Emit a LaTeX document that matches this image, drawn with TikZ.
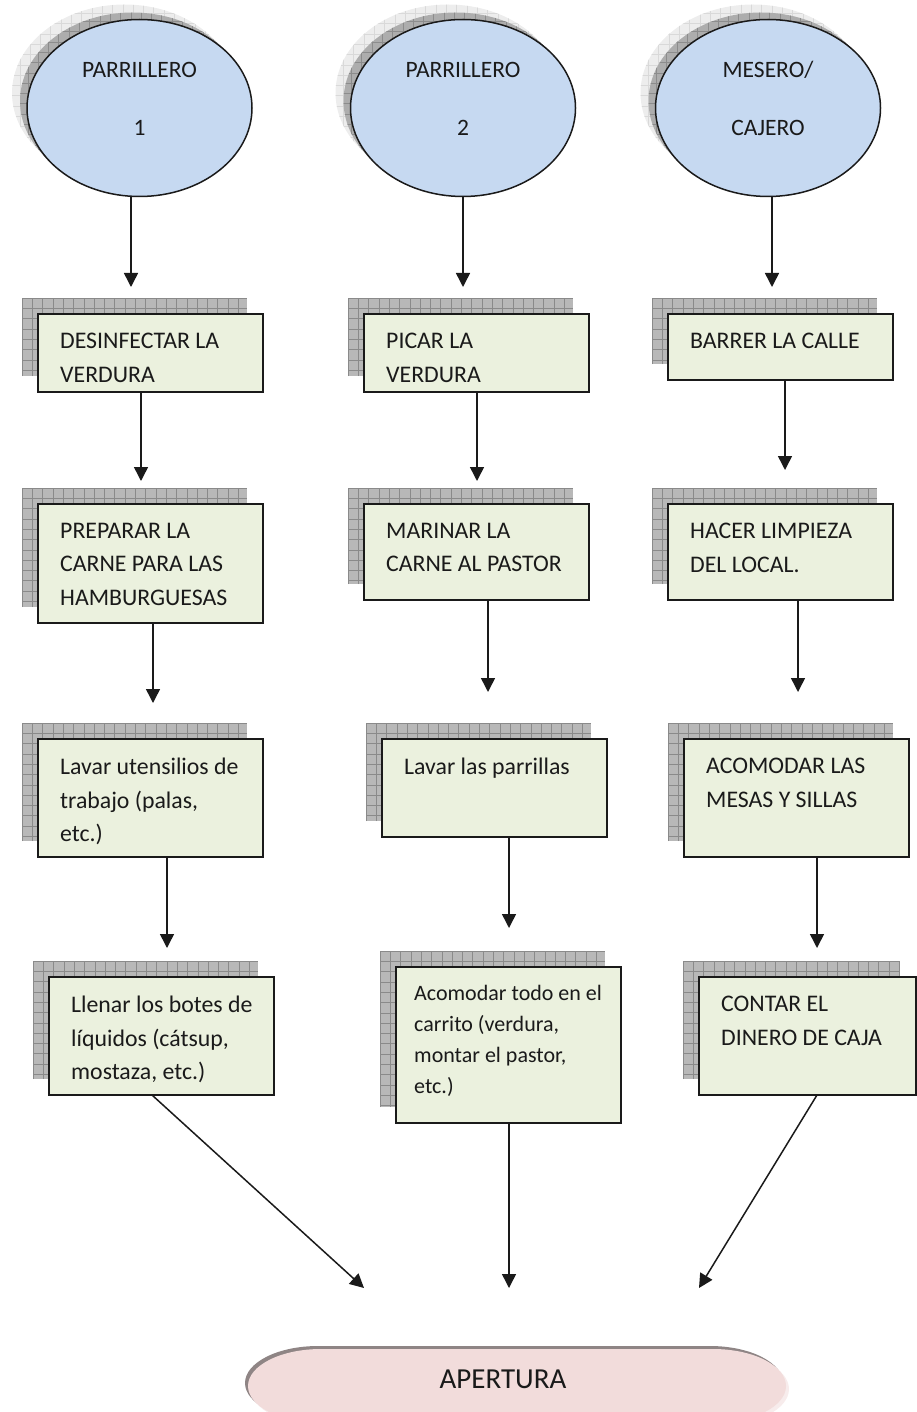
\documentclass[tikz,border=0pt]{standalone}
\usepackage{fontspec}
\setmainfont{Carlito}
\usetikzlibrary{arrows.meta,shapes.geometric}

\definecolor{ellfill}{HTML}{C6D9F1}
\definecolor{boxfill}{HTML}{EBF1DE}
\definecolor{endfill}{HTML}{F2DCDB}
\definecolor{endshade}{HTML}{8F8585}
\definecolor{endrim}{HTML}{F7ECEC}
\definecolor{ink}{HTML}{1A1A1A}

\tikzset{
  stepbox/.style={draw=ink, line width=1.8pt, fill=boxfill, inner sep=0pt,
    outer sep=0pt, anchor=north west},
  role/.style={ellipse, draw=ink, line width=1.5pt, fill=ellfill, inner sep=0pt,
    outer sep=0pt, minimum width=225, minimum height=177},
  boxtext/.style={font=\fontsize{23.8}{33.5}\selectfont, text=ink, align=left,
    inner sep=0pt, anchor=north west},
  smalltext/.style={font=\fontsize{22}{31}\selectfont},
  roletext/.style={font=\fontsize{23.5}{28}\selectfont, text=ink, inner sep=0pt,
    anchor=base},
  shadefill/.style={fill=black!28},
  shadegrid/.style={draw=black!46, line width=0.6pt},
  arr/.style={draw=ink, line width=1.5pt, -{Triangle[length=14pt,width=14pt]}},
}

% task box: name, x1, y1, x2, y2, text; a gridded shadow sits 16 units up-left
\newcommand\taskbox[7][]{%
  \fill[shadefill] (#3-16,#4-16) rectangle (#5-16,#6-16);
  \begin{scope}
    \clip (#3-16,#4-16) rectangle (#5-16,#6-16);
    \draw[shadegrid, shift={(#3-16,#4-16)}] (0,#6-#4) grid[step=10.3pt] (#5-#3,0);
  \end{scope}
  \node[stepbox, minimum width=#5-#3, minimum height=#6-#4] (#2) at (#3,#4) {};
  \node[boxtext, #1] (#2-t) at (#3+22,#4+19) {#7};
}

% role ellipse: name, cx, cy, first line, second line
\newcommand\roleell[5]{%
  \fill[black!7] (#2-15,#3-15) ellipse [x radius=112.5, y radius=88.5];
  \begin{scope}
    \clip (#2-15,#3-15) ellipse [x radius=112.5, y radius=88.5];
    \draw[black!15, line width=0.5pt, shift={(#2-130,#3-105)}] (0,200) grid[step=10.3pt] (240,0);
  \end{scope}
  \fill[black!32] (#2-7,#3-7) ellipse [x radius=112.5, y radius=88.5];
  \begin{scope}
    \clip (#2-7,#3-7) ellipse [x radius=112.5, y radius=88.5];
    \draw[black!45, line width=0.5pt, shift={(#2-122,#3-97)}] (0,200) grid[step=10.3pt] (240,0);
  \end{scope}
  \node[role] (#1) at (#2,#3) {};
  \node[roletext] (#1-a) at (#2,#3-30.5) {#4};
  \node[roletext] (#1-b) at (#2,#3+27.5) {#5};
}

% terminator outline with elliptical ends
\newcommand\terminator[2]{%
  (#1+321,#2+1349) -- (#1+713,#2+1349)
  arc[start angle=90, end angle=-90, x radius=73, y radius=-37]
  -- (#1+321,#2+1423)
  arc[start angle=270, end angle=90, x radius=73, y radius=-37] -- cycle}

\begin{document}
\begin{tikzpicture}[x=1pt,y=-1pt]
\useasboundingbox (0,0) rectangle (917,1412);

% roles
\roleell{e1}{139.5}{108}{PARRILLERO}{1}
\roleell{e2}{463}{108}{PARRILLERO}{2}
\roleell{e3}{768}{108}{MESERO/}{CAJERO}

% first column
\taskbox{b11}{38}{314}{263}{392}{DESINFECTAR LA\\VERDURA}
\taskbox{b12}{38}{504}{263}{623}{PREPARAR LA\\CARNE PARA LAS\\HAMBURGUESAS}
\taskbox{b13}{38}{739}{263}{857}{Lavar utensilios de\\trabajo (palas,\\etc.)}
\taskbox{b14}{49}{977}{274}{1095}{Llenar los botes de\\líquidos (cátsup,\\mostaza, etc.)}

% second column
\taskbox{b21}{364}{314}{589}{392}{PICAR LA\\VERDURA}
\taskbox{b22}{364}{504}{589}{600}{MARINAR LA\\CARNE AL PASTOR}
\taskbox{b23}{382}{739}{607}{837}{Lavar las parrillas}
\taskbox[smalltext, xshift=-4pt, yshift=1pt]{b24}{396}{967}{621}{1123}{Acomodar todo en el\\carrito (verdura,\\montar el pastor,\\etc.)}

% third column
\taskbox{b31}{668}{314}{893}{380}{BARRER LA CALLE}
\taskbox{b32}{668}{504}{893}{600}{HACER LIMPIEZA\\DEL LOCAL.}
\taskbox{b33}{684}{739}{909}{857}{ACOMODAR LAS\\MESAS Y SILLAS}
\taskbox{b34}{699}{977}{916}{1095}{CONTAR EL\\DINERO DE CAJA}

% opening terminator
\fill[endrim] \terminator{3}{3};
\fill[endshade] \terminator{-3}{-3};
\fill[endfill] \terminator{0}{0};
\node[font=\fontsize{29}{34}\selectfont, text=ink, inner sep=0pt, anchor=base]
  (apertura) at (503,1388) {APERTURA};

% arrow tips
\coordinate (p1) at (131,287);
\coordinate (p2) at (463,287);
\coordinate (p3) at (772,287);
\coordinate (q11) at (141,481);
\coordinate (q21) at (477,481);
\coordinate (q31) at (785,470);
\coordinate (q12) at (153,703);
\coordinate (q22) at (488,692);
\coordinate (q32) at (798,692);
\coordinate (q13) at (167,948);
\coordinate (q23) at (509,928);
\coordinate (q33) at (817,948);
\coordinate (a1) at (364,1288);
\coordinate (a2) at (509,1288);
\coordinate (a3) at (699,1288);

% connectors
\draw[arr] (e1.south -| p1) -- (p1);
\draw[arr] (e2.south -| p2) -- (p2);
\draw[arr] (e3.south -| p3) -- (p3);
\draw[arr] (b11.south -| q11) -- (q11);
\draw[arr] (b21.south -| q21) -- (q21);
\draw[arr] (b31.south -| q31) -- (q31);
\draw[arr] (b12.south -| q12) -- (q12);
\draw[arr] (b22.south -| q22) -- (q22);
\draw[arr] (b32.south -| q32) -- (q32);
\draw[arr] (b13.south -| q13) -- (q13);
\draw[arr] (b23.south -| q23) -- (q23);
\draw[arr] (b33.south -| q33) -- (q33);
\draw[arr] ([xshift=-9.5pt]b14.south) -- (a1);
\draw[arr] (b24.south -| a2) -- (a2);
\draw[arr] ([xshift=9.5pt]b34.south) -- (a3);
\end{tikzpicture}
\end{document}
